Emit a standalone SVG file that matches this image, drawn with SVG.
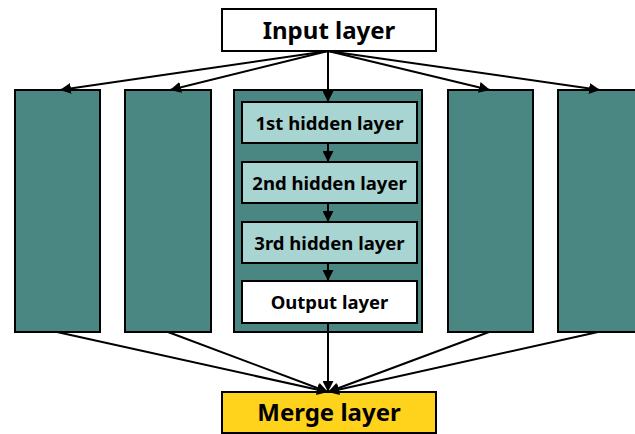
<svg xmlns="http://www.w3.org/2000/svg" width="635" height="434" viewBox="0 0 635 434">
  <style>
    .box { stroke: #000; stroke-width: 2; }
    .teal { fill: #4A8682; }
    .light { fill: #A8D5D1; }
    .white { fill: #FFFFFF; }
    .gold { fill: #FFD21C; }
    .big { font-family: "Noto Sans", "Open Sans", "DejaVu Sans", sans-serif; font-weight: bold; font-size: 24px; text-anchor: middle; fill: #000; }
    .small { font-family: "Noto Sans", "Open Sans", "DejaVu Sans", sans-serif; font-weight: bold; font-size: 18.5px; text-anchor: middle; fill: #000; }
    .link { stroke: #000; stroke-width: 2; fill: none; }
  </style>
  <defs>
    <marker id="arrow" viewBox="0 0 10 10" refX="10" refY="5" markerWidth="5.5" markerHeight="5.5" markerUnits="strokeWidth" orient="auto">
      <path d="M0,0 L10,5 L0,10 z" fill="#000"/>
    </marker>
  </defs>

  <rect width="635" height="434" fill="#FFFFFF"/>

  <!-- input -->
  <g id="input-layer">
    <rect class="box white" x="222" y="9" width="214" height="42"/>
    <text class="big" x="329" y="39">Input layer</text>
  </g>

  <!-- parallel side networks -->
  <g id="net-1"><rect class="box teal" x="15" y="90" width="85" height="242"/></g>
  <g id="net-2"><rect class="box teal" x="125" y="90" width="86" height="242"/></g>
  <g id="net-4"><rect class="box teal" x="448" y="90" width="85" height="242"/></g>
  <g id="net-5"><rect class="box teal" x="558" y="90" width="90" height="242"/></g>

  <!-- expanded central network -->
  <g id="net-3">
    <rect class="box teal" x="234" y="90" width="188" height="242"/>
  </g>
  <g id="hidden-1">
    <rect class="box light" x="242" y="102" width="175" height="41"/>
    <text class="small" x="329.5" y="130">1st hidden layer</text>
  </g>
  <g id="hidden-2">
    <rect class="box light" x="242" y="162" width="175" height="41"/>
    <text class="small" x="329.5" y="190">2nd hidden layer</text>
  </g>
  <g id="hidden-3">
    <rect class="box light" x="242" y="222" width="175" height="41"/>
    <text class="small" x="329.5" y="250">3rd hidden layer</text>
  </g>
  <g id="output-layer">
    <rect class="box white" x="242" y="281" width="175" height="42"/>
    <text class="small" x="329.5" y="309">Output layer</text>
  </g>

  <!-- merge -->
  <g id="merge-layer">
    <rect class="box gold" x="222" y="392" width="214" height="41"/>
    <text class="big" x="329" y="421">Merge layer</text>
  </g>

  <g id="connectors">
    <line class="link" x1="328" y1="51" x2="60" y2="90" marker-end="url(#arrow)"/>
    <line class="link" x1="328" y1="51" x2="170" y2="90" marker-end="url(#arrow)"/>
    <line class="link" x1="328" y1="51" x2="328" y2="102" marker-end="url(#arrow)"/>
    <line class="link" x1="328" y1="51" x2="490" y2="90" marker-end="url(#arrow)"/>
    <line class="link" x1="328" y1="51" x2="600" y2="90" marker-end="url(#arrow)"/>

    <line class="link" x1="328" y1="143" x2="328" y2="162" marker-end="url(#arrow)"/>
    <line class="link" x1="328" y1="203" x2="328" y2="222" marker-end="url(#arrow)"/>
    <line class="link" x1="328" y1="263" x2="328" y2="281" marker-end="url(#arrow)"/>

    <line class="link" x1="57" y1="332" x2="328" y2="392" marker-end="url(#arrow)"/>
    <line class="link" x1="168" y1="332" x2="328" y2="392" marker-end="url(#arrow)"/>
    <line class="link" x1="328" y1="323" x2="328" y2="392" marker-end="url(#arrow)"/>
    <line class="link" x1="489" y1="332" x2="328" y2="392" marker-end="url(#arrow)"/>
    <line class="link" x1="598" y1="332" x2="328" y2="392" marker-end="url(#arrow)"/>
  </g>
</svg>
